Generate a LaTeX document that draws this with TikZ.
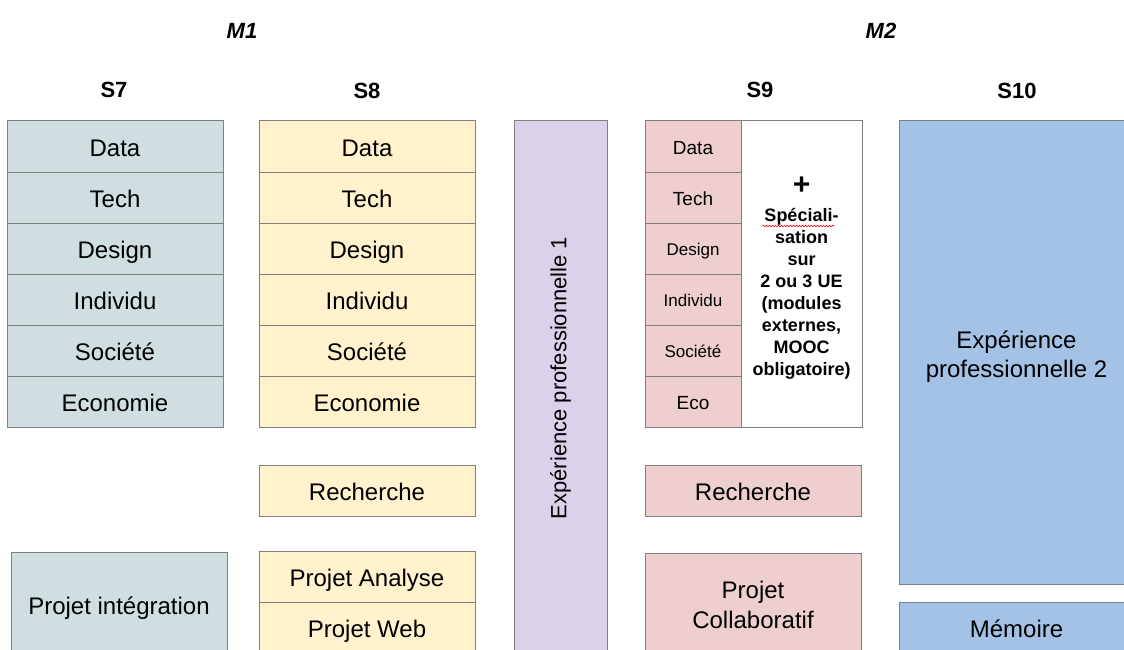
\documentclass[tikz,border=0pt]{standalone}
\usepackage{fontspec}
\setmainfont{Liberation Sans}
\usetikzlibrary{positioning,decorations.pathmorphing}

\definecolor{semgris}{HTML}{D0DEE2}
\definecolor{semjaune}{HTML}{FFF2CC}
\definecolor{semviolet}{HTML}{D9D2E9}
\definecolor{semrose}{HTML}{EECECE}
\definecolor{sembleu}{HTML}{A4C2E6}
\definecolor{bord}{HTML}{7F7F7F}

\begin{document}
\begin{tikzpicture}[x=1pt,y=-1pt,node distance=0pt,
  ue/.style={draw=bord,line width=1pt,outer sep=0pt,inner sep=0pt,
    minimum width=216pt,minimum height=51pt,
    text height=20.9pt,text depth=1.2pt,
    font=\fontsize{24}{30}\selectfont,align=center},
  bloc/.style={ue,text height=,text depth=},
  s7/.style={ue,fill=semgris},
  s8/.style={ue,fill=semjaune},
  s9/.style={ue,fill=semrose},
  s9p/.style={s9,minimum width=96pt,text height=15pt,text depth=0.8pt,font=\fontsize{17}{20}\selectfont},
  s9g/.style={s9p,text height=16.4pt,text depth=0.8pt,font=\fontsize{19}{22}\selectfont},
  titre/.style={font=\bfseries\fontsize{22}{26}\selectfont}]
\useasboundingbox (0,0) rectangle (1124,650);
\clip (0,0) rectangle (1124,650);

% titres
\node[titre] (m1) at (242,31) {\textit{M1}};
\node[titre] (m2) at (881,31) {\textit{M2}};
\node[titre] (sem7) at (114,90) {S7};
\node[titre] (sem8) at (367,91) {S8};
\node[titre] (sem9) at (760,90) {S9};
\node[titre] (sem10) at (1017,91) {S10};

% S7
\node[s7,anchor=north west] (data7) at (7,121) {Data};
\node[s7,below=of data7] (tech7) {Tech};
\node[s7,below=of tech7] (design7) {Design};
\node[s7,below=of design7] (indiv7) {Individu};
\node[s7,below=of indiv7] (soc7) {Société};
\node[s7,below=of soc7] (eco7) {Economie};
\node[s7,anchor=north west,minimum height=106pt] (integ7) at (11,552) {Projet intégration};

% S8
\node[s8,anchor=north west] (data8) at (259,121) {Data};
\node[s8,below=of data8] (tech8) {Tech};
\node[s8,below=of tech8] (design8) {Design};
\node[s8,below=of design8] (indiv8) {Individu};
\node[s8,below=of indiv8] (soc8) {Société};
\node[s8,below=of soc8] (eco8) {Economie};
\node[s8,anchor=north west] (rech8) at (259,465) {Recherche};
\node[s8,anchor=north west,minimum height=51pt] (analyse8) at (259,551) {Projet Analyse};
\node[s8,below=of analyse8,minimum height=51pt] (web8) {Projet Web};

% experience 1
\node[ue,fill=semviolet,anchor=north west,minimum width=93pt,minimum height=560pt] (exp1) at (514,121) {};
\node[rotate=90,font=\fontsize{22}{26}\selectfont] (exp1t) at ([yshift=-257pt]exp1.north) {Expérience professionnelle 1};

% S9
\node[s9g,anchor=north west] (data9) at (645,121) {Data};
\node[s9g,below=of data9] (tech9) {Tech};
\node[s9p,below=of tech9] (design9) {Design};
\node[s9p,below=of design9] (indiv9) {Individu};
\node[s9p,below=of indiv9] (soc9) {Société};
\node[s9g,below=of soc9] (eco9) {Eco};
\node[ue,fill=white,anchor=north west,minimum width=121pt,minimum height=306pt] (spec9) at (741,121) {};
\node[align=center,inner sep=0pt,font=\bfseries\fontsize{18}{22}\selectfont] (spec9t) at ([yshift=-4pt]spec9.center)
  {{\fontsize{30}{30}\selectfont +}\\[5pt]Spéciali-\\sation\\sur\\2 ou 3 UE\\(modules\\externes,\\MOOC\\obligatoire)};
% soulignement du correcteur
\draw[red,line width=0.6pt,decorate,decoration={snake,amplitude=0.8pt,segment length=3pt}]
  ([xshift=-39pt,yshift=-105pt]spec9.north) -- ([xshift=33pt,yshift=-105pt]spec9.north);
\node[s9,anchor=north west] (rech9) at (645,465) {Recherche};
\node[s9,bloc,anchor=north west,minimum height=104pt] (collab9) at (645,553) {Projet\\Collaboratif};

% S10
\node[ue,fill=sembleu,anchor=north west,minimum width=235pt,minimum height=463pt] (exp2) at (899,121) {};
\node[align=center,inner sep=0pt,font=\fontsize{24}{29}\selectfont] (exp2t) at ([yshift=-4pt]exp2.center) {Expérience\\professionnelle 2};
\node[ue,fill=sembleu,anchor=north west,minimum width=235pt,minimum height=52pt] (memoire) at (899,602) {Mémoire};
\end{tikzpicture}
\end{document}
